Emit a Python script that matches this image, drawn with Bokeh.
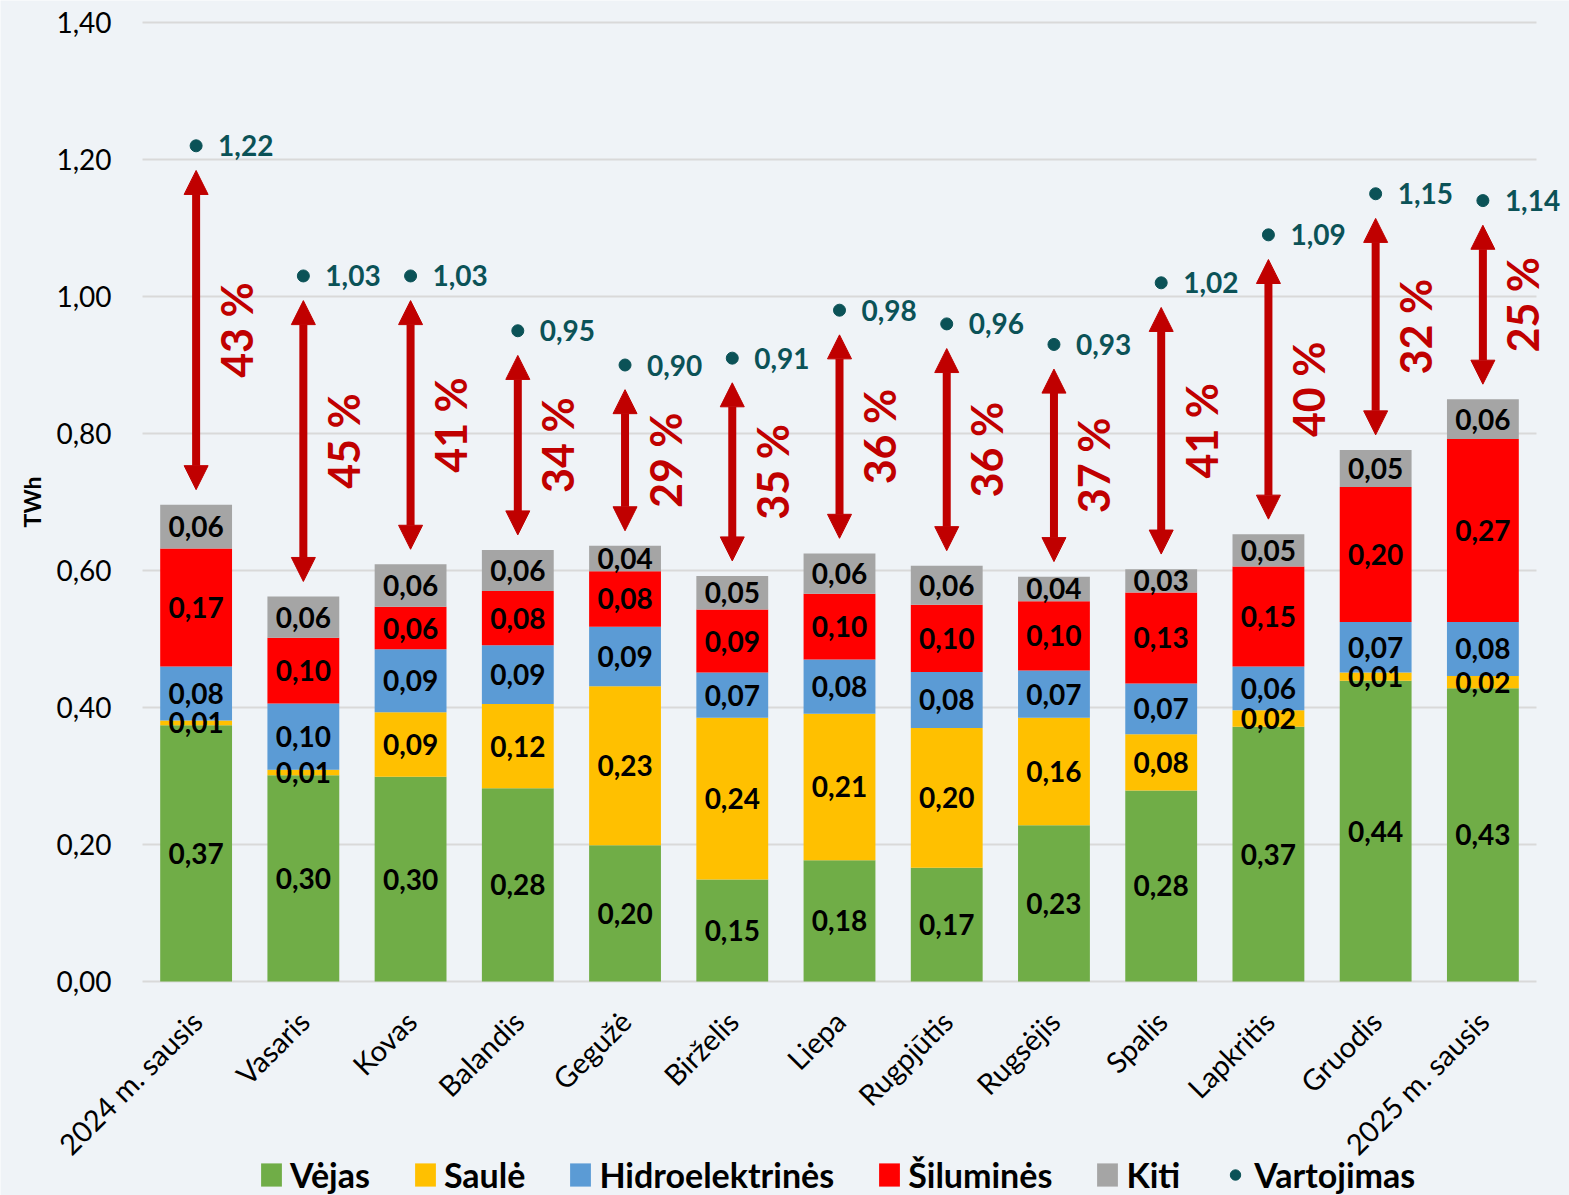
import numpy as np
from math import pi
from bokeh.plotting import figure
from bokeh.models import (ColumnDataSource, Range1d, Arrow, NormalHead, Legend, LegendItem, LabelSet)
from bokeh.core.properties import value
from bokeh.embed import file_html
from bokeh.resources import INLINE

# ---------------- data ----------------
months = ["2024 m. sausis", "Vasaris", "Kovas", "Balandis", "Gegužė", "Birželis", "Liepa",
          "Rugpjūtis", "Rugsėjis", "Spalis", "Lapkritis", "Gruodis", "2025 m. sausis"]
vejas = [0.374, 0.301, 0.299, 0.282, 0.199, 0.149, 0.177, 0.166, 0.228, 0.279, 0.372, 0.439, 0.428]
saule = [0.007, 0.008, 0.094, 0.123, 0.232, 0.236, 0.214, 0.204, 0.157, 0.082, 0.024, 0.012, 0.018]
hidro = [0.079, 0.097, 0.092, 0.086, 0.087, 0.066, 0.079, 0.082, 0.069, 0.074, 0.064, 0.074, 0.079]
silum = [0.172, 0.096, 0.062, 0.079, 0.081, 0.092, 0.096, 0.098, 0.101, 0.133, 0.146, 0.197, 0.267]
kiti = [0.064, 0.060, 0.062, 0.060, 0.037, 0.049, 0.059, 0.057, 0.036, 0.034, 0.047, 0.054, 0.058]
vartojimas = [1.22, 1.03, 1.03, 0.95, 0.90, 0.91, 0.98, 0.96, 0.93, 1.02, 1.09, 1.15, 1.14]
share = [43, 45, 41, 34, 29, 35, 36, 36, 37, 41, 40, 32, 25]
series_names = ["Vėjas", "Saulė", "Hidroelektrinės", "Šiluminės", "Kiti"]
y_ticks = [0.0, 0.2, 0.4, 0.6, 0.8, 1.0, 1.2, 1.4]
y_title = "TWh"

# ---------------- style / layout ----------------
BG = "#eff3f7"
FONT = "Lato"
RED = "#c00000"
TEAL = "#0b5257"
GRID = "#d9d9d9"
colors = ["#70ad47", "#ffc000", "#5b9bd5", "#ff0000", "#a5a5a5"]

W, H = 1569, 1195
PLOT_LEFT, PLOT_RIGHT = 142, 1536
PLOT_TOP, PLOT_BOTTOM = 22, 981
Y_MAX = 1.4
px_per_unit = (PLOT_BOTTOM - PLOT_TOP) / Y_MAX
n = len(months)
px_per_cat = (PLOT_RIGHT - PLOT_LEFT) / n
x_start = -PLOT_LEFT / px_per_cat
x_end = (W - PLOT_LEFT) / px_per_cat
y_start = -(H - PLOT_BOTTOM) / px_per_unit
y_end = Y_MAX + PLOT_TOP / px_per_unit


def fmt(v):
    return f"{v:.2f}".replace(".", ",")


p = figure(x_range=Range1d(x_start, x_end), y_range=Range1d(y_start, y_end),
           width=W, height=H, output_backend="svg", toolbar_location=None,
           x_axis_location=None, y_axis_location=None,
           min_border_left=0, min_border_right=0, min_border_top=0, min_border_bottom=0,
           background_fill_color=BG, border_fill_color=BG, outline_line_color=None)
p.xgrid.grid_line_color = None
p.ygrid.grid_line_color = None

xs = [i + 0.5 for i in range(n)]

# gridlines over the category span
p.segment(x0=[0] * len(y_ticks), x1=[n] * len(y_ticks), y0=y_ticks, y1=y_ticks,
          line_color=GRID, line_width=2)

# y tick labels and title
p.text(x=[0] * len(y_ticks), y=y_ticks, text=[fmt(t) for t in y_ticks], x_offset=-31,
       text_align="right", text_baseline="middle", text_font=value(FONT),
       text_font_size="28px", text_color="black")
p.text(x=[0], y=[Y_MAX / 2], text=[y_title], x_offset=-111, angle=pi / 2,
       text_align="center", text_baseline="middle", text_font=value(FONT),
       text_font_style="bold", text_font_size="23px", text_color="black")

keys = ["vejas", "saule", "hidro", "silum", "kiti"]
src = ColumnDataSource(dict(x=xs, vejas=vejas, saule=saule, hidro=hidro, silum=silum, kiti=kiti))
rs = p.vbar_stack(keys, x="x", width=0.67, fill_color=colors, line_color=None, source=src)

# segment labels
stack = np.array([vejas, saule, hidro, silum, kiti])
cum = np.cumsum(stack, axis=0)
centers = cum - stack / 2
totals = cum[-1]
lx, ly, lt = [], [], []
for k in range(len(keys)):
    for i in range(n):
        lx.append(xs[i])
        ly.append(float(centers[k, i]))
        lt.append(fmt(stack[k, i]))
p.text(x=lx, y=ly, text=lt, text_align="center", text_baseline="middle",
       text_font=value(FONT), text_font_style="bold", text_font_size="28px", text_color="black")

# arrows between bar top and consumption
y0 = totals + 0.022
y1 = np.array(vartojimas) - 0.036
asrc = ColumnDataSource(dict(x=xs, y0=y0, y1=y1))
p.add_layout(Arrow(start=NormalHead(size=24, fill_color=RED, line_color=RED, line_width=1),
                   end=NormalHead(size=24, fill_color=RED, line_color=RED, line_width=1),
                   x_start="x", y_start="y0", x_end="x", y_end="y1", source=asrc,
                   line_color=RED, line_width=8))

p.text(x=xs, y=list((y0 + y1) / 2), text=[f"{s} %" for s in share], angle=pi / 2, x_offset=40,
       text_align="center", text_baseline="middle", text_font=value(FONT),
       text_font_style="bold", text_font_size="43px", text_color=RED)

# consumption points
sc = p.scatter(x=xs, y=vartojimas, size=12, fill_color=TEAL, line_color=TEAL)
csrc = ColumnDataSource(dict(x=xs, y=vartojimas, t=[fmt(v) for v in vartojimas]))
p.add_layout(LabelSet(x="x", y="y", text="t", source=csrc, x_offset=22, text_align="left",
                      text_baseline="middle", text_font=value(FONT), text_font_style="bold",
                      text_font_size="28px", text_color=TEAL))

# category labels (rotated)
p.text(x=xs, y=[0] * n, text=months, angle=pi / 4, x_offset=-12, y_offset=22,
       text_align="right", text_baseline="top", text_font=value(FONT),
       text_font_size="29px", text_color="black")

items = [LegendItem(label=nm, renderers=[r]) for nm, r in zip(series_names, rs)]
items.append(LegendItem(label="Vartojimas", renderers=[sc]))
leg = Legend(items=items, orientation="horizontal", location=(258, 0),
             label_text_font=FONT, label_text_font_style="bold", label_text_font_size="34px",
             label_text_color="black", glyph_width=26, glyph_height=29, label_standoff=6,
             spacing=42, padding=0, margin=0, border_line_color=None, background_fill_alpha=0)
p.add_layout(leg, "center")

open("out.html", "w").write(file_html(p, INLINE))
